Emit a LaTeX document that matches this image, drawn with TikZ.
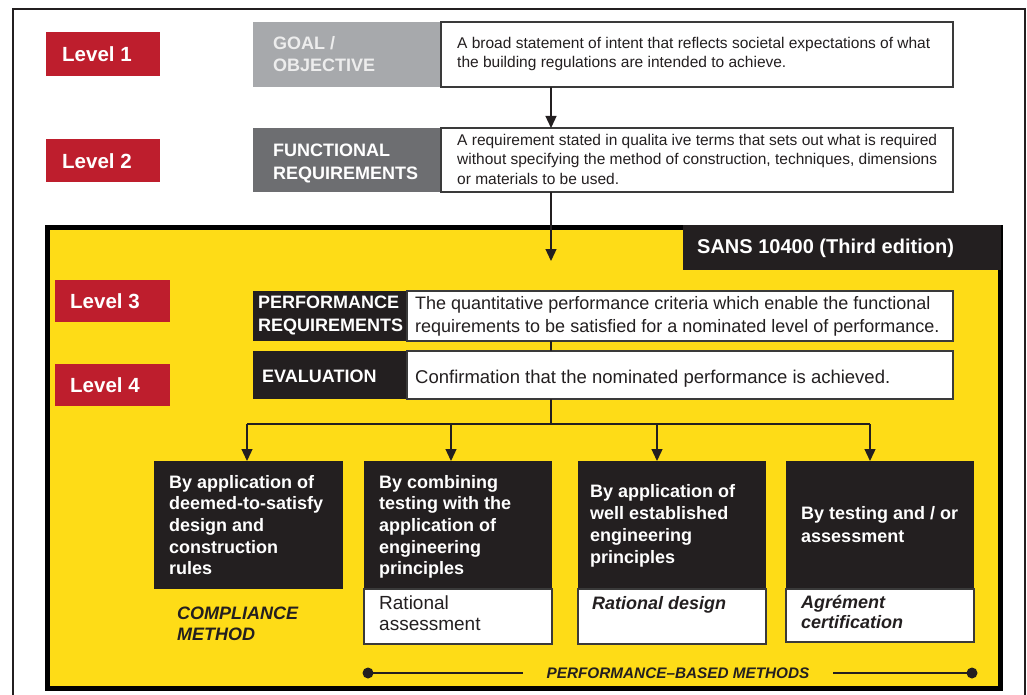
\documentclass[tikz,border=0pt]{standalone}
\usepackage{fontspec}
\setmainfont{Liberation Sans}
\usetikzlibrary{arrows.meta}
\definecolor{lvred}{HTML}{BE1E2D}
\definecolor{goalgray}{HTML}{A7A9AC}
\definecolor{funcgray}{HTML}{6D6E71}
\definecolor{blk}{HTML}{231F20}
\definecolor{yel}{HTML}{FEDC17}
\definecolor{edge}{HTML}{3A3A3A}
\definecolor{goaltext}{HTML}{EDEDED}
\newcommand\fsz[2]{\fontsize{#1}{#2}\selectfont}
\begin{document}
\begin{tikzpicture}[x=1pt,y=-1pt,
  bw/.style={minimum width=#1},
  bh/.style={minimum height=#1},
  plain/.style={anchor=north west, inner sep=0, outer sep=0},
  redbox/.style={plain, fill=lvred},
  goalbox/.style={plain, fill=goalgray},
  funcbox/.style={plain, fill=funcgray},
  blkbox/.style={plain, fill=blk},
  descbox/.style={plain, fill=white, draw=edge, line width=1.1pt},
  lvtext/.style={anchor=base west, inner sep=0, text=white, font=\bfseries\fsz{20.5}{21}},
  hdtext/.style={anchor=base west, inner sep=0, text=white, font=\bfseries\fsz{18}{20}},
  gltext/.style={hdtext, text=goaltext},
  dtext/.style={anchor=base west, inner sep=0, text=blk, font=\fsz{15.5}{18}},
  ptext/.style={anchor=base west, inner sep=0, text=blk, font=\fsz{18}{20}},
  etext/.style={anchor=base west, inner sep=0, text=blk, font=\fsz{18.5}{20}},
  wtext/.style={anchor=base west, inner sep=0, text=white, font=\bfseries\fsz{18}{20}},
  rtext/.style={anchor=base west, inner sep=0, text=blk, font=\fsz{19}{20}},
  bitext/.style={anchor=base west, inner sep=0, text=blk, font=\bfseries\itshape\fsz{18}{20}},
  pbtext/.style={anchor=base, inner sep=0, text=blk, font=\bfseries\itshape\fsz{15.3}{18}},
  conn/.style={draw=blk, line width=1.3pt},
  arr/.style={conn, -{Triangle[width=11pt,length=12pt]}},
  dot/.style={circle, fill=blk, minimum size=11pt, inner sep=0}
]
\useasboundingbox (0,0) rectangle (1027,695);
\fill[white] (0,0) rectangle (1027,695);
% outer frame
\draw[line width=1.6pt, blk] (13,705) -- (13,9) -- (1025,9) -- (1025,705);

% level labels
\node[redbox, bw=114, bh=44] (L1) at (46,32) {};
\node[redbox, bw=114, bh=43] (L2) at (46,139) {};
\node[lvtext] (L1t) at (62,61.5) {Level 1};
\node[lvtext] (L2t) at (62,168) {Level 2};

% goal
\node[goalbox, bw=188, bh=65] (goal) at (253,22) {};
\node[descbox, bw=512, bh=65] (goald) at (441,22) {};
\node[gltext] (goalt1) at (273,50) {GOAL /};
\node[gltext] (goalt2) at (273,72) {OBJECTIVE};
\node[dtext] (gd1) at (457,48.5) {A broad statement of intent that reflects societal expectations of what};
\node[dtext] (gd2) at (457,68) {the building regulations are intended to achieve.};

% functional
\node[funcbox, bw=188, bh=64] (func) at (253,128) {};
\node[descbox, bw=512, bh=64] (funcd) at (441,128) {};
\node[hdtext] (funct1) at (273,157) {FUNCTIONAL};
\node[hdtext] (funct2) at (273,179) {REQUIREMENTS};
\node[dtext] (fd1) at (457,145.5) {A requirement stated in qualita ive terms that sets out what is required};
\node[dtext] (fd2) at (457,165) {without specifying the method of construction, techniques, dimensions};
\node[dtext] (fd3) at (457,184.5) {or materials to be used.};

\coordinate (spine) at (551,0);
\draw[arr] (goald.south -| spine) -- (funcd.north -| spine);

% yellow SANS panel
\draw[line width=5pt, draw=black, fill=yel] (47,227) rectangle (1000.5,688);
\node[blkbox, bw=317.5, bh=45] (sans) at (683,225) {};
\node[anchor=base west, inner sep=0, text=white, font=\bfseries\fsz{20}{22}] (sanst) at (697,253) {SANS 10400 (Third edition)};

\coordinate (sanstip) at (551,261);
\draw[arr] (funcd.south -| spine) -- (sanstip);

% levels 3 and 4
\node[redbox, bw=115, bh=42] (L3) at (55,280) {};
\node[redbox, bw=115, bh=42] (L4) at (55,364) {};
\node[lvtext] (L3t) at (70,308.5) {Level 3};
\node[lvtext] (L4t) at (70,392.5) {Level 4};

% performance requirements
\node[blkbox, bw=154, bh=50] (perf) at (253,291) {};
\node[descbox, bw=546, bh=50] (perfd) at (407,291) {};
\node[hdtext] (perft1) at (258,308.5) {PERFORMANCE};
\node[hdtext] (perft2) at (258,331.5) {REQUIREMENTS};
\node[ptext] (pd1) at (415,309.5) {The quantitative performance criteria which enable the functional};
\node[ptext] (pd2) at (415,332.5) {requirements to be satisfied for a nominated level of performance.};

% evaluation
\node[blkbox, bw=154, bh=48] (eval) at (253,351) {};
\node[descbox, bw=546, bh=48] (evald) at (407,351) {};
\node[hdtext] (evalt) at (262,382.5) {EVALUATION};
\node[etext] (ed1) at (415,383.5) {Confirmation that the nominated performance is achieved.};

\draw[conn] (perfd.south -| spine) -- (evald.north -| spine);

% branching
\coordinate (hub) at (551,424);
\coordinate (hl) at (247,424);
\coordinate (h2) at (451,424);
\coordinate (h3) at (657,424);
\coordinate (hr) at (870,424);
\draw[conn] (evald.south -| spine) -- (hub);
\draw[conn] (hl) -- (hr);

% bottom boxes
\node[blkbox, bw=189, bh=128] (b1) at (154,461) {};
\node[blkbox, bw=188, bh=128] (b2) at (364,461) {};
\node[descbox, bw=188, bh=55] (b2w) at (364,589) {};
\node[blkbox, bw=188, bh=128] (b3) at (578,461) {};
\node[descbox, bw=188, bh=55] (b3w) at (578,589) {};
\node[blkbox, bw=188, bh=128] (b4) at (786,461) {};
\node[descbox, bw=188, bh=53] (b4w) at (786,589) {};

\draw[arr] (hl) -- (hl |- b1.north);
\draw[arr] (h2) -- (h2 |- b2.north);
\draw[arr] (h3) -- (h3 |- b3.north);
\draw[arr] (hr) -- (hr |- b4.north);

\node[wtext] (b1t1) at (169,488) {By application of};
\node[wtext] (b1t2) at (169,509.5) {deemed-to-satisfy};
\node[wtext] (b1t3) at (169,531) {design and};
\node[wtext] (b1t4) at (169,553) {construction};
\node[wtext] (b1t5) at (169,574.5) {rules};

\node[wtext] (b2t1) at (379,488) {By combining};
\node[wtext] (b2t2) at (379,509.5) {testing with the};
\node[wtext] (b2t3) at (379,531) {application of};
\node[wtext] (b2t4) at (379,553) {engineering};
\node[wtext] (b2t5) at (379,574.5) {principles};

\node[wtext] (b3t1) at (590,497) {By application of};
\node[wtext] (b3t2) at (590,519) {well established};
\node[wtext] (b3t3) at (590,541) {engineering};
\node[wtext] (b3t4) at (590,563) {principles};

\node[wtext] (b4t1) at (801,519) {By testing and / or};
\node[wtext] (b4t2) at (801,542) {assessment};

\node[rtext] (b2w1) at (379,609.5) {Rational};
\node[rtext] (b2w2) at (379,630.5) {assessment};
\node[bitext] (b3w1) at (592,609) {Rational design};
\node[bitext] (b4w1) at (801,608) {Agrément};
\node[bitext] (b4w2) at (801,628.5) {certification};

\node[bitext] (cm1) at (177,619.5) {COMPLIANCE};
\node[bitext] (cm2) at (177,640.5) {METHOD};

% performance-based methods
\node[dot] (dl) at (368,673) {};
\node[dot] (dr) at (972,673) {};
\coordinate (pl) at (523,673);
\coordinate (pr) at (833,673);
\node[pbtext] (pbm) at (678,678.5) {PERFORMANCE–BASED METHODS};
\draw[draw=blk, line width=1.2pt] (dl.center) -- (pl);
\draw[draw=blk, line width=1.2pt] (pr) -- (dr.center);
\end{tikzpicture}
\end{document}
